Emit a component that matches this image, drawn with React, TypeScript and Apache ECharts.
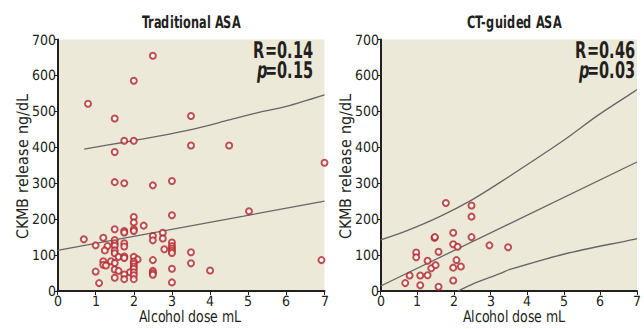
import React, { useEffect, useRef } from "react";
import * as echarts from "echarts";

// Traditional ASA: alcohol dose (mL) vs CKMB release (ng/dL)
const tradDose = [
  0.8, 1.5, 2.0, 2.5, 1.75, 2.0, 1.5, 3.5, 3.5, 4.5, 7.0, 1.5, 1.75, 2.5, 3.0, 5.02, 2.0, 3.0, 2.0, 2.26,
  1.5, 1.75, 1.75, 2.0, 2.0, 2.5, 2.5, 2.76, 2.76, 0.69, 1.2, 1.5, 1.5, 1.5, 1.0, 1.31, 1.75, 1.75, 1.24, 1.5,
  1.5, 2.8, 3.0, 3.0, 3.0, 3.0, 3.0, 3.5, 1.6, 1.75, 1.75, 2.0, 2.1, 2.0, 2.0, 2.5, 1.2, 1.4, 1.5, 1.2,
  1.27, 3.5, 2.0, 2.0, 3.0, 4.0, 1.0, 1.5, 1.6, 1.9, 2.0, 2.5, 2.5, 2.5, 1.75, 2.0, 1.5, 1.75, 2.0, 1.09,
  3.0, 6.92,
];
const tradCkmb = [
  521, 480, 585, 655, 418, 418, 387, 487, 405, 405, 357, 303, 300, 294, 306, 222, 206, 211, 191, 182,
  172, 167, 163, 172, 167, 153, 141, 162, 146, 144, 148, 142, 133, 126, 127, 125, 133, 124, 113, 113,
  105, 116, 135, 125, 118, 112, 106, 108, 95, 96, 92, 95, 88, 82, 76, 86, 83, 83, 78, 73,
  71, 77, 68, 62, 62, 57, 54, 60, 56, 52, 52, 56, 50, 45, 46, 44, 37, 33, 33, 22,
  24, 86,
];
const tradFitX = [0, 7];
const tradFitY = [113, 250];
const tradUpperX = [0.7, 1.75, 2.5, 3.5, 4.5, 5.2, 6.0, 7.0];
const tradUpperY = [395, 414, 428, 449, 476, 495, 514, 546];

// CT-guided ASA
const ctDose = [
  0.67, 0.79, 0.97, 0.97, 1.08, 1.08, 1.28, 1.28, 1.38, 1.47, 1.48, 1.5, 1.58, 1.58, 1.78, 1.98, 1.98, 1.98,
  1.98, 2.07, 2.1, 2.19, 2.48, 2.48, 2.48, 2.97, 3.48,
];
const ctCkmb = [
  22, 43, 107, 94, 43, 16, 84, 44, 63, 148, 150, 72, 109, 12, 245, 162, 130, 65,
  29, 86, 123, 68, 238, 207, 150, 127, 122,
];
const ctFitX = [0, 7];
const ctFitY = [14, 359];
const ctUpperX = [0, 0.72, 1.61, 2.48, 3.27, 5.02, 5.89, 6.92, 7.0];
const ctUpperY = [142, 168, 207, 253, 303, 421, 486, 555, 561];
const ctLowerX = [2.11, 2.48, 3.27, 3.53, 5.02, 6.92, 7.0];
const ctLowerY = [0, 18, 49, 60, 103, 144, 146];

const titles = ["Traditional ASA", "CT-guided ASA"];
const rLabels = ["R=0.14", "R=0.46"];
const pLabels = ["0.15", "0.03"];
const xName = "Alcohol dose mL";
const yName = "CKMB release ng/dL";
const xTicks = [0, 1, 2, 3, 4, 5, 6, 7];
const yTicks = [0, 100, 200, 300, 400, 500, 600, 700];

const FONT = '"CondSans", "Liberation Sans Narrow", "DejaVu Sans Condensed", sans-serif';
const INK = "#231f20";
const BG = "#ece9d8";
const DOT = "#b3242b";
const LINE = "#666666";

const FONT_CSS = `
@font-face { font-family: "CondSans"; font-weight: normal; font-style: normal;
  src: local("Liberation Sans Narrow"), local("LiberationSansNarrow"), local("LiberationSansNarrow-Regular"),
       local("DejaVu Sans Condensed"), local("DejaVuSansCondensed"); }
@font-face { font-family: "CondSans"; font-weight: bold; font-style: normal;
  src: local("Liberation Sans Narrow Bold"), local("LiberationSansNarrow-Bold"),
       local("DejaVu Sans Condensed Bold"), local("DejaVuSansCondensed-Bold"); }
@font-face { font-family: "CondSans"; font-weight: bold; font-style: italic;
  src: local("Liberation Sans Narrow Bold Italic"), local("LiberationSansNarrow-BoldItalic"),
       local("DejaVu Sans Condensed Bold Oblique"), local("DejaVuSansCondensed-BoldOblique"); }
svg text { font-stretch: condensed; }
`;

const pairs = (xs: number[], ys: number[]) => xs.map((x, i) => [x, ys[i]]);

export default function App() {
  const ref = useRef<HTMLDivElement>(null);
  useEffect(() => {
    if (!ref.current) return;
    const chart = echarts.init(ref.current, null, { renderer: "svg" });
    const grids = [
      { left: 57.5, top: 39.5, width: 267, height: 251.5 },
      { left: 380.7, top: 39.5, width: 267, height: 251.5 },
    ];
    const xAxisBase = (i: number) => ({
      type: "value",
      gridIndex: i,
      min: xTicks[0],
      max: xTicks[xTicks.length - 1],
      interval: 1,
      axisLine: { show: true, onZero: false, lineStyle: { color: INK, width: 2 } },
      axisTick: { show: true, length: 4, lineStyle: { color: INK, width: 1 } },
      axisLabel: { fontFamily: FONT, fontSize: 14, color: INK, margin: 3 },
      splitLine: { show: false },
    });
    const yAxisBase = (i: number) => ({
      type: "value",
      gridIndex: i,
      min: yTicks[0],
      max: yTicks[yTicks.length - 1],
      interval: 100,
      axisLine: { show: true, onZero: false, lineStyle: { color: INK, width: 2 } },
      axisTick: { show: true, length: 3, lineStyle: { color: INK, width: 1 } },
      axisLabel: { fontFamily: FONT, fontSize: 14, color: INK, margin: 2 },
      splitLine: { show: false },
    });
    const scatter = (i: number, xs: number[], ys: number[]) => ({
      type: "scatter",
      xAxisIndex: i,
      yAxisIndex: i,
      data: pairs(xs, ys),
      symbol: "emptyCircle",
      symbolSize: 6,
      itemStyle: { color: DOT, borderColor: DOT, borderWidth: 1.2 },
      z: 3,
    });
    const curve = (i: number, xs: number[], ys: number[], smooth: number | boolean) => ({
      type: "line",
      xAxisIndex: i,
      yAxisIndex: i,
      data: pairs(xs, ys),
      showSymbol: false,
      symbol: "none",
      smooth,
      clip: true,
      lineStyle: { color: LINE, width: 1.3 },
      z: 2,
    });
    const annot = (xRight: number, i: number) => [
      {
        type: "text",
        x: xRight,
        y: 40,
        scaleX: 0.7,
        style: {
          text: rLabels[i],
          align: "right",
          verticalAlign: "top",
          fontFamily: FONT,
          fontWeight: "bold",
          fontSize: 23,
          lineHeight: 20,
          fill: INK,
        },
      },
      {
        type: "text",
        x: xRight,
        y: 60,
        scaleX: 0.7,
        style: {
          text: `{i|p}{b|=${pLabels[i]}}`,
          align: "right",
          verticalAlign: "top",
          rich: {
            b: { fontFamily: FONT, fontWeight: "bold", fontSize: 23, lineHeight: 20, fill: INK },
            i: {
              fontFamily: FONT,
              fontWeight: "bold",
              fontStyle: "italic",
              fontSize: 23,
              lineHeight: 20,
              fill: INK,
            },
          },
        },
      },
    ];
    const titleText = (x: number, text: string) => ({
      type: "text",
      x,
      y: 14,
      scaleX: 0.74,
      style: {
        text,
        fontFamily: FONT,
        fontWeight: "bold",
        fontSize: 17,
        fill: INK,
        align: "center",
      },
    });
    const xNameText = (x: number) => ({
      type: "text",
      x,
      y: 309,
      scaleX: 0.87,
      style: { text: xName, fontFamily: FONT, fontSize: 16, fill: INK, align: "center" },
    });
    const yNameText = (x: number) => ({
      type: "text",
      x,
      y: 166,
      rotation: Math.PI / 2,
      style: {
        text: yName,
        fontFamily: FONT,
        fontSize: 16,
        fill: INK,
        align: "center",
        verticalAlign: "middle",
      },
    });
    chart.setOption({
      animation: false,
      backgroundColor: "#ffffff",
      grid: grids.map((g) => ({
        ...g,
        show: true,
        backgroundColor: BG,
        borderWidth: 0,
      })),
      xAxis: [xAxisBase(0), xAxisBase(1)],
      yAxis: [yAxisBase(0), yAxisBase(1)],
      graphic: [
        titleText(191, titles[0]),
        titleText(514, titles[1]),
        ...annot(314, 0),
        ...annot(636, 1),
        xNameText(190),
        xNameText(514),
        yNameText(22),
        yNameText(345),
      ],
      series: [
        curve(0, tradFitX, tradFitY, false),
        curve(0, tradUpperX, tradUpperY, 0.3),
        scatter(0, tradDose, tradCkmb),
        curve(1, ctFitX, ctFitY, false),
        curve(1, ctUpperX, ctUpperY, 0.3),
        curve(1, ctLowerX, ctLowerY, 0.3),
        scatter(1, ctDose, ctCkmb),
      ],
    });
    return () => chart.dispose();
  }, []);
  return (
    <>
      <style>{FONT_CSS}</style>
      <div
        ref={ref}
        style={{ position: "fixed", left: 0, top: 0, width: 644, height: 329 }}
      />
    </>
  );
}
